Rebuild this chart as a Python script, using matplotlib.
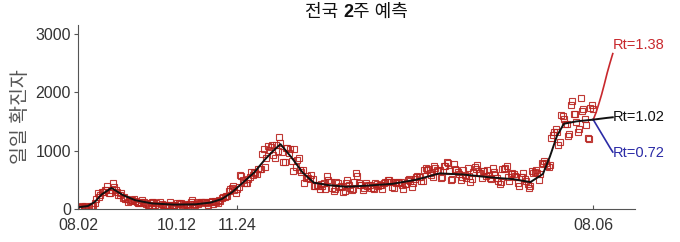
import numpy as np
import pandas as pd
import matplotlib
matplotlib.use("Agg")
import matplotlib.pyplot as plt

plt.rcParams['font.family'] = ['Liberation Sans', 'Noto Sans CJK KR', 'DejaVu Sans']

# daily confirmed cases, 2020-08-02 .. 2021-08-06
start = '2020-08-02'
cases = [
    # Aug 2020 (from 08.02)
    23, 34, 33, 43, 20, 43, 36, 28, 34, 54, 56, 56, 103, 166, 279, 197, 246, 297, 288, 324,
    332, 397, 266, 280, 320, 441, 371, 323, 299, 248,
    # Sep
    235, 267, 195, 198, 168, 167, 119, 136, 156, 155, 176, 136, 121, 109, 106, 113, 153, 126, 110, 82,
    70, 61, 110, 125, 114, 61, 95, 50, 38, 113,
    # Oct
    77, 63, 75, 64, 73, 75, 114, 69, 54, 72, 58, 97, 102, 84, 110, 47, 73, 91, 76, 58,
    89, 121, 155, 77, 61, 119, 88, 103, 125, 114, 127,
    # Nov
    124, 97, 75, 118, 125, 145, 89, 143, 126, 100, 146, 143, 191, 205, 208, 223, 230, 313, 343, 363,
    386, 330, 271, 349, 382, 583, 569, 504, 450, 438,
    # Dec
    451, 511, 540, 629, 583, 631, 615, 594, 686, 682, 689, 950, 1030, 718, 880, 1078, 1014, 1064, 1097, 926,
    869, 1090, 985, 1241, 1132, 970, 807, 808, 1045, 1050, 967,
    # Jan 2021
    1029, 824, 657, 1020, 715, 840, 869, 674, 641, 665, 451, 537, 562, 524, 513, 580, 520, 389, 386, 404,
    401, 346, 431, 392, 437, 349, 559, 497, 469, 458, 355,
    # Feb
    305, 336, 467, 451, 370, 393, 372, 289, 303, 444, 504, 403, 362, 326, 344, 457, 621, 561, 448, 416,
    416, 332, 356, 440, 396, 406, 415, 355,
    # Mar
    355, 344, 444, 424, 398, 418, 416, 346, 446, 470, 465, 488, 490, 459, 382, 363, 469, 445, 463, 452,
    456, 415, 346, 428, 430, 494, 505, 482, 382, 447, 506,
    # Apr
    551, 557, 543, 543, 473, 478, 668, 700, 671, 677, 614, 587, 542, 731, 698, 673, 658, 672, 532, 549,
    731, 735, 797, 785, 644, 499, 512, 769, 680, 661,
    # May
    627, 606, 488, 541, 676, 574, 525, 701, 564, 463, 511, 635, 715, 681, 747, 610, 619, 528, 654, 646,
    561, 666, 585, 530, 516, 707, 629, 587, 533, 480, 430,
    # Jun
    459, 677, 681, 695, 744, 556, 485, 602, 611, 602, 565, 556, 452, 399, 545, 540, 611, 507, 482, 429,
    357, 395, 645, 610, 634, 668, 614, 501, 595, 794,
    # Jul
    762, 826, 794, 743, 711, 746, 1212, 1275, 1316, 1378, 1324, 1100, 1150, 1615, 1600, 1536, 1452, 1454, 1252, 1278,
    1784, 1842, 1630, 1629, 1487, 1318, 1365, 1896, 1674, 1710, 1539,
    # Aug (to 08.06)
    1442, 1219, 1202, 1725, 1776, 1704,
]
dates = pd.date_range(start, periods=len(cases), freq='D')

# model fit (black line)
fit_dates = pd.to_datetime([
    '2020-08-02', '2020-08-09', '2020-08-14', '2020-08-19', '2020-08-26', '2020-09-03',
    '2020-09-12', '2020-09-24', '2020-10-10', '2020-10-25', '2020-11-05', '2020-11-13',
    '2020-11-20', '2020-11-28', '2020-12-06', '2020-12-14', '2020-12-20', '2020-12-25',
    '2021-01-02', '2021-01-10', '2021-01-18', '2021-01-28', '2021-02-10', '2021-02-25',
    '2021-03-15', '2021-04-01', '2021-04-18', '2021-05-05', '2021-05-25', '2021-06-10',
    '2021-06-22', '2021-07-01', '2021-07-06', '2021-07-11', '2021-07-16', '2021-07-25',
    '2021-08-06'])
fit_vals = [30, 50, 120, 250, 360, 240, 150, 95, 75, 80, 110, 170,
            280, 450, 620, 850, 1000, 1110, 880, 620, 450, 410, 380, 400,
            430, 500, 610, 590, 540, 510, 460, 600, 900, 1250, 1460, 1500, 1530]

# 2-week forecasts from 08.06
fc_dates = pd.date_range('2021-08-06', '2021-08-20', freq='2D')
fc_high = [1530, 1650, 1800, 1960, 2140, 2330, 2500, 2660]   # Rt=1.38
fc_mid = [1530, 1536, 1542, 1548, 1554, 1560, 1565, 1570]    # Rt=1.02
fc_low = [1530, 1450, 1370, 1290, 1210, 1130, 1050, 975]     # Rt=0.72

xtick_dates = pd.to_datetime(['2020-08-02', '2020-10-12', '2020-11-24', '2021-08-06'])
xtick_labels = ['08.02', '10.12', '11.24', '08.06']
yticks = [0, 1000, 2000, 3000]

red = '#b8231f'
blue = '#2b2ba6'

fig = plt.figure(figsize=(6.8, 2.42), dpi=100)
ax = fig.add_axes([0.1147, 0.1364, 0.8193, 0.7603])

ax.plot(dates, cases, ls='none', marker='s', ms=5, mfc='none',
        mec=red, mew=0.8, alpha=0.9)
ax.plot(fit_dates, fit_vals, color='#111111', lw=1.4)
ax.plot(fc_dates, fc_high, color='#c8282d', lw=1.2)
ax.plot(fc_dates, fc_low, color=blue, lw=1.2)
ax.plot(fc_dates, fc_mid, color='#111111', lw=1.4)

end = fc_dates[-1]
ax.text(end, fc_high[-1] + 30, 'Rt=1.38', color='#c8282d', fontsize=10.5, va='bottom', ha='left')
ax.text(end, fc_mid[-1], 'Rt=1.02', color='#111111', fontsize=10.5, va='center', ha='left')
ax.text(end, fc_low[-1] - 20, 'Rt=0.72', color=blue, fontsize=10.5, va='center', ha='left')

ax.set_xlim(pd.Timestamp(start), pd.Timestamp(start) + pd.Timedelta(days=399))
ax.set_ylim(0, 3150)
ax.set_xticks(xtick_dates)
ax.set_xticklabels(xtick_labels)
ax.set_yticks(yticks)

for s in ['top', 'right']:
    ax.spines[s].set_visible(False)
for s in ['left', 'bottom']:
    ax.spines[s].set_color('#555555')
    ax.spines[s].set_linewidth(0.8)

ax.tick_params(axis='x', direction='in', length=3, pad=6.5, labelsize=11.5,
               colors='#555555', labelcolor='#333333')
ax.tick_params(axis='y', direction='out', length=3, pad=2, labelsize=11.5,
               colors='#555555', labelcolor='#333333')

ax.set_ylabel('일일 확진자', fontsize=14, color='#555555', labelpad=4)

# title with a bold "2"
renderer = fig.canvas.get_renderer()
parts = [('전국 ', 'normal'), ('2', 'bold'), ('주 예측', 'normal')]
texts = []
for s, w in parts:
    t = fig.text(0, 0.95, s, fontsize=13, fontweight=w, color='#111111', va='center', ha='left')
    texts.append(t)
total = sum(t.get_window_extent(renderer).width for t in texts)
xc = (0.1147 + 0.8193 / 2) * 680
xpos = xc - total / 2
for t in texts:
    t.set_x(xpos / 680)
    xpos += t.get_window_extent(renderer).width

fig.savefig('out.png', dpi=100)
